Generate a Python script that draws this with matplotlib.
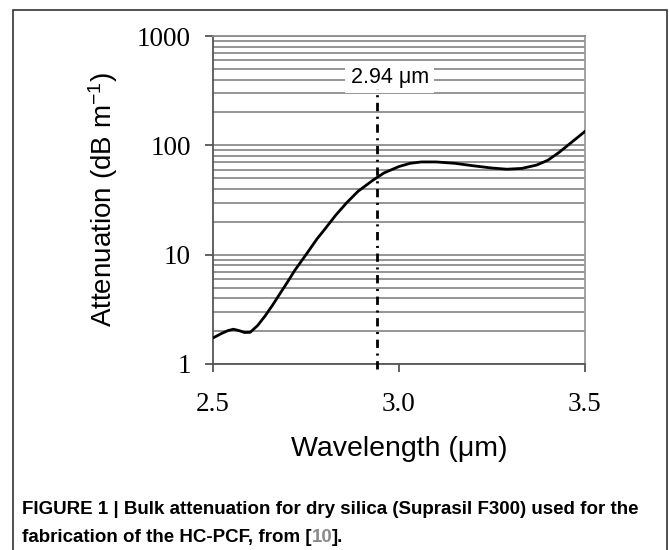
import matplotlib
matplotlib.use("Agg")
import matplotlib.pyplot as plt
from matplotlib.patches import Rectangle

plt.rcParams['mathtext.default'] = 'regular'
plt.rcParams['lines.scale_dashes'] = False

# attenuation curve
wavelength = [2.50, 2.52, 2.54, 2.555, 2.57, 2.585, 2.60, 2.62, 2.64, 2.66, 2.68,
              2.70, 2.72, 2.75, 2.78, 2.80, 2.83, 2.86, 2.89, 2.93, 2.96, 3.00,
              3.03, 3.06, 3.10, 3.15, 3.20, 3.25, 3.29, 3.33, 3.37, 3.40, 3.43,
              3.46, 3.50]
attenuation = [1.73, 1.88, 2.02, 2.08, 2.02, 1.94, 1.95, 2.25, 2.75, 3.45, 4.4,
               5.6, 7.2, 10.0, 14.0, 17.0, 23.0, 30.0, 38.0, 48.0, 56.0, 64.0,
               68.5, 70.5, 70.5, 68.5, 65.0, 62.0, 60.5, 61.5, 66.0, 73.0, 86.0,
               104.0, 134.0]
marker_wl = 2.94

xticks = [2.5, 3.0, 3.5]
xtick_labels = ['2.5', '3.0', '3.5']
yticks = [1, 10, 100, 1000]
ytick_labels = ['1', '10', '100', '1000']

fig = plt.figure(figsize=(6.69, 5.5), dpi=100)
ax = fig.add_axes([0.3184, 0.3382, 0.556, 0.5963])

ax.plot(wavelength, attenuation, color='black', lw=2.0, zorder=4)
ax.plot([marker_wl, marker_wl], [0.9, 330], color='black', lw=2.0,
        dashes=[6, 4, 1.5, 4], clip_on=False, zorder=4)

ax.set_yscale('log')
ax.set_xlim(2.5, 3.5)
ax.set_ylim(1, 1000)
ax.set_xticks(xticks)
ax.set_xticklabels(xtick_labels)
ax.set_yticks(yticks)
ax.set_yticklabels(ytick_labels)
ax.minorticks_off()
ax.yaxis.set_minor_locator(matplotlib.ticker.LogLocator(base=10, subs=range(2, 10)))
ax.yaxis.set_minor_formatter(matplotlib.ticker.NullFormatter())

ax.set_axisbelow(True)
ax.grid(True, which='both', axis='y', color='#8c8c8c', lw=1.3)
ax.tick_params(axis='y', which='minor', length=0)
ax.tick_params(axis='both', which='major', direction='out', length=6,
               width=1.3, color='#555555', labelsize=19.5)
ax.tick_params(axis='x', pad=14)
ax.tick_params(axis='y', pad=10)
for lbl in ax.get_xticklabels() + ax.get_yticklabels():
    lbl.set_fontfamily('Liberation Serif')

for side in ['left', 'bottom']:
    ax.spines[side].set_color('#555555')
    ax.spines[side].set_linewidth(1.3)
ax.spines['right'].set_color('#9a9a9a')
ax.spines['right'].set_linewidth(1.3)
ax.spines['top'].set_color('#8c8c8c')
ax.spines['top'].set_linewidth(1.3)

ax.text(2.975, 420, '2.94 μm', ha='center', va='center', fontsize=15.5,
        family='Liberation Sans', zorder=3,
        bbox=dict(facecolor='white', edgecolor='none', pad=4))

ax.set_xlabel('Wavelength (μm)', fontsize=20.5, family='Liberation Sans', labelpad=14)
ax.set_ylabel('Attenuation (dB m$^{-1}$)', fontsize=20, family='Liberation Sans',
              labelpad=12)

# frame around the figure panel
fig.add_artist(Rectangle((13 / 669, -0.02), 654 / 669, 1.02 - 10 / 550,
                         transform=fig.transFigure, fill=False,
                         edgecolor='#333333', lw=1.2))

cap_font = dict(fontsize=13.5, fontweight='bold', family='Liberation Sans')
fig.text(22 / 669, 1 - 509 / 550,
         'FIGURE 1 | Bulk attenuation for dry silica (Suprasil F300) used for the',
         va='center', ha='left', **cap_font)
fig.canvas.draw()
renderer = fig.canvas.get_renderer()
x0 = 22 / 669
parts = [('fabrication of the HC-PCF, from [', 'black'), ('10', '#8a8a8a'), ('].', 'black')]
for s, c in parts:
    t = fig.text(x0, 1 - 537 / 550, s, va='center', ha='left', color=c, **cap_font)
    bb = t.get_window_extent(renderer)
    x0 += bb.width / fig.bbox.width

fig.savefig('out.png', dpi=100)
